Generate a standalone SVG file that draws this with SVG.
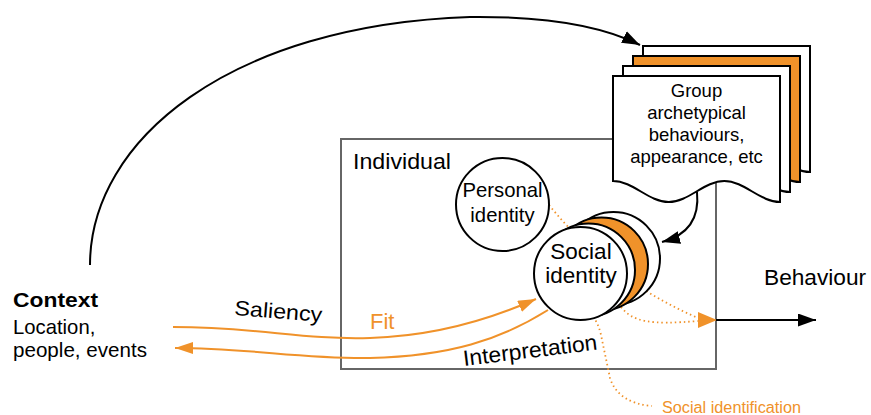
<svg xmlns="http://www.w3.org/2000/svg" width="871" height="415" viewBox="0 0 871 415">
  <style>
    text { font-family: "Liberation Sans", Arial, sans-serif; fill: #000; }
    .blk { fill: none; stroke: #000; stroke-width: 2; }
    .org { fill: none; stroke: #F0922A; stroke-width: 2; }
    .dot { fill: none; stroke: #F0922A; stroke-width: 1.8; stroke-dasharray: 1.5 3; }
    .shape { stroke: #000; stroke-width: 2; }
    .mid { text-anchor: middle; }
    .otext { fill: #F0922A; }
  </style>
  <defs>
    <marker id="ab" markerUnits="userSpaceOnUse" markerWidth="19" markerHeight="13" refX="18" refY="6.5" orient="auto">
      <path d="M0,0 L18,6.5 L0,13 Z" fill="#000"/>
    </marker>
    <marker id="ao" markerUnits="userSpaceOnUse" markerWidth="19" markerHeight="12" refX="18" refY="6" orient="auto">
      <path d="M0,0 L18,6 L0,12 Z" fill="#F0922A"/>
    </marker>
    <path id="doc" d="M0,0 H167 V126 C147,126 131.3,105 111.3,105 C91.3,105 75.7,126 55.7,126 C35.7,126 20,105 0,105 Z"/>
  </defs>
  <rect width="871" height="415" fill="#fff"/>

  <g id="individual">
    <rect x="341" y="139" width="375" height="230" fill="none" stroke="#666" stroke-width="2"/>
    <text x="353" y="169" font-size="22" textLength="98" lengthAdjust="spacingAndGlyphs">Individual</text>
  </g>

  <g id="connectors">
    <path class="dot" d="M549,205 Q610,280 698,318"/>
    <path class="dot" d="M621,307 C633,322 650,325 698,321"/>
    <path class="dot" d="M583,308 Q597,316 601,335 L610,378 Q618,403 652,406"/>
    <polygon points="698,312 717,320 698,328" fill="#F0922A"/>
    <line x1="716" y1="320" x2="816" y2="320" stroke="#000" stroke-width="2" marker-end="url(#ab)"/>
    <path class="blk" d="M90,265 C90,140 230,25 470,17 C560,16 610,30 640,45" marker-end="url(#ab)"/>
    <path class="org" d="M173,327 C260,327 300,340 370,338 C440,336 500,315 536,299" marker-end="url(#ao)"/>
    <path class="org" d="M548,310 C500,340 450,356 370,358 C300,359 250,348 175,348" marker-end="url(#ao)"/>
  </g>

  <g id="group-docs">
    <use href="#doc" x="643" y="46" fill="#fff" class="shape"/>
    <use href="#doc" x="633" y="56" fill="#F0922A" class="shape"/>
    <use href="#doc" x="623" y="66" fill="#fff" class="shape"/>
    <use href="#doc" x="613" y="76" fill="#fff" class="shape"/>
    <text class="mid" x="696.5" y="97" font-size="18.5">Group</text>
    <text class="mid" x="696.5" y="119" font-size="18.5">archetypical</text>
    <text class="mid" x="696.5" y="141" font-size="18.5">behaviours,</text>
    <text class="mid" x="696.5" y="163" font-size="18.5">appearance, etc</text>
  </g>

  <g id="docs-to-social">
    <path class="blk" d="M697,192 C700,222 685,236 662,242" marker-end="url(#ab)"/>
  </g>

  <g id="personal-identity">
    <circle cx="502.5" cy="204.5" r="46.5" fill="#fff" class="shape"/>
    <text class="mid" x="502.5" y="197" font-size="20.3">Personal</text>
    <text class="mid" x="502.5" y="222" font-size="20.3">identity</text>
  </g>

  <g id="social-identity">
    <circle cx="613.5" cy="258.5" r="46.5" fill="#fff" class="shape"/>
    <circle cx="601.5" cy="264" r="46.5" fill="#F0922A" class="shape"/>
    <circle cx="588.5" cy="270" r="46.5" fill="#fff" class="shape"/>
    <circle cx="580.5" cy="273.5" r="46.5" fill="#fff" class="shape"/>
    <text class="mid" x="581" y="259" font-size="22.5">Social</text>
    <text class="mid" x="581" y="283" font-size="22.5">identity</text>
  </g>

  <g id="context">
    <text x="13" y="307" font-size="21" font-weight="bold" textLength="85" lengthAdjust="spacingAndGlyphs">Context</text>
    <text x="13" y="334" font-size="20.3">Location,</text>
    <text x="13" y="357" font-size="20.6">people, events</text>
  </g>

  <g id="behaviour">
    <text x="764" y="285" font-size="22.7">Behaviour</text>
  </g>

  <g id="labels">
    <text x="234" y="315" font-size="21" transform="rotate(4.5 234 315)" textLength="88" lengthAdjust="spacingAndGlyphs">Saliency</text>
    <text class="otext" x="370" y="329" font-size="22">Fit</text>
    <text x="464" y="366" font-size="22" transform="rotate(-7 464 366)" textLength="135" lengthAdjust="spacingAndGlyphs">Interpretation</text>
    <text class="otext" x="662" y="413" font-size="16" textLength="139" lengthAdjust="spacingAndGlyphs">Social identification</text>
  </g>
</svg>
